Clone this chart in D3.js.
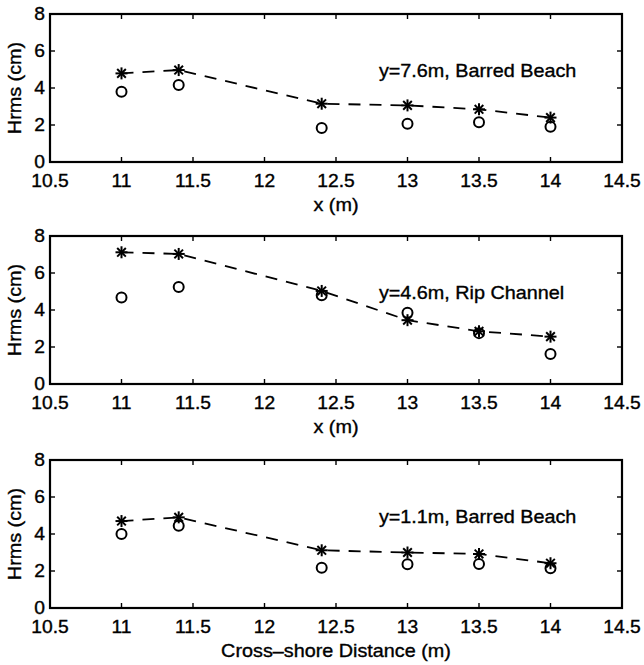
<!DOCTYPE html>
<html>
<head>
<meta charset="utf-8">
<script src="https://cdn.jsdelivr.net/npm/d3@7"></script>
<style>
html,body{margin:0;padding:0;background:#fff;}
svg{display:block;}
text{font-family:"Liberation Sans",Arial,Helvetica,sans-serif;fill:#000;stroke:#000;stroke-width:0.35;}
</style>
</head>
<body>
<script>
// ---- data ----
const xPositions = [11, 11.4, 12.4, 13, 13.5, 14];
const xTicks = [10.5, 11, 11.5, 12, 12.5, 13, 13.5, 14, 14.5];
const xTickLabels = ["10.5", "11", "11.5", "12", "12.5", "13", "13.5", "14", "14.5"];
const yTicks = [0, 2, 4, 6, 8];
const yTickLabels = ["0", "2", "4", "6", "8"];

const modelTop = [4.79, 4.97, 3.15, 3.06, 2.85, 2.40];
const measTop = [3.80, 4.16, 1.84, 2.07, 2.15, 1.90];
const modelMid = [7.12, 7.03, 5.03, 3.45, 2.85, 2.56];
const measMid = [4.68, 5.24, 4.80, 3.85, 2.75, 1.62];
const modelBot = [4.70, 4.90, 3.12, 3.00, 2.92, 2.42];
const measBot = [4.00, 4.45, 2.17, 2.36, 2.38, 2.15];

const panelTitles = ["y=7.6m, Barred Beach", "y=4.6m, Rip Channel", "y=1.1m, Barred Beach"];
const xLabels = ["x (m)", "x (m)", "Cross\u2013shore Distance (m)"];
const yLabel = "Hrms (cm)";

const panels = [
  {model: modelTop, meas: measTop, title: panelTitles[0], xlabel: xLabels[0]},
  {model: modelMid, meas: measMid, title: panelTitles[1], xlabel: xLabels[1]},
  {model: modelBot, meas: measBot, title: panelTitles[2], xlabel: xLabels[2]}
];

// ---- layout ----
const W = 644, H = 665;
const left = 50, right = 622;
const tops = [14, 236, 460];
const ph = 148;
const tickLen = 5;
const sx = 1.1; // horizontal text stretch

const svg = d3.select("body").append("svg").attr("width", W).attr("height", H);

const x = d3.scaleLinear().domain([10.5, 14.5]).range([left, right]);

function addText(g, tx, ty, str, size, anchor, baseline, rot) {
  const t = g.append("g").attr("transform", `translate(${tx},${ty})` + (rot ? ` rotate(${rot})` : "") + ` scale(${sx},1)`);
  t.append("text")
    .attr("x", 0).attr("y", 0)
    .attr("font-size", size)
    .attr("text-anchor", anchor)
    .attr("dominant-baseline", baseline)
    .text(str);
}

panels.forEach((p, i) => {
  const top = tops[i], bottom = top + ph;
  const y = d3.scaleLinear().domain([0, 8]).range([bottom, top]);
  const g = svg.append("g");

  // ticks (inward, all four sides)
  xTicks.forEach(v => {
    g.append("line").attr("x1", x(v)).attr("x2", x(v)).attr("y1", bottom).attr("y2", bottom - tickLen)
      .attr("stroke", "#000").attr("stroke-width", 1.4);
    g.append("line").attr("x1", x(v)).attr("x2", x(v)).attr("y1", top).attr("y2", top + tickLen)
      .attr("stroke", "#000").attr("stroke-width", 1.4);
  });
  yTicks.forEach(v => {
    g.append("line").attr("x1", left).attr("x2", left + tickLen).attr("y1", y(v)).attr("y2", y(v))
      .attr("stroke", "#000").attr("stroke-width", 1.4);
    g.append("line").attr("x1", right).attr("x2", right - tickLen).attr("y1", y(v)).attr("y2", y(v))
      .attr("stroke", "#000").attr("stroke-width", 1.4);
  });

  // box
  g.append("rect").attr("x", left).attr("y", top).attr("width", right - left).attr("height", ph)
    .attr("fill", "none").attr("stroke", "#000").attr("stroke-width", 2.2);

  // tick labels
  xTicks.forEach((v, k) => addText(g, x(v), bottom + 19, xTickLabels[k], 17.5, "middle", "central"));
  yTicks.forEach((v, k) => addText(g, left - 5, y(v), yTickLabels[k], 17.5, "end", "central"));

  // axis labels
  addText(g, (left + right) / 2, bottom + 43, p.xlabel, 18, "middle", "central");
  addText(g, 15, (top + bottom) / 2, yLabel, 18, "middle", "central", -90);

  // annotation
  addText(g, x(12.8), y(4.92), p.title, 18, "start", "central");

  // dashed model line
  const line = d3.line().x((d, k) => x(xPositions[k])).y(d => y(d));
  g.append("path").datum(p.model).attr("d", line)
    .attr("fill", "none").attr("stroke", "#000").attr("stroke-width", 1.8)
    .attr("stroke-dasharray", "12,9");

  // circles (measured)
  g.selectAll("circle.m").data(p.meas).enter().append("circle")
    .attr("cx", (d, k) => x(xPositions[k])).attr("cy", d => y(d)).attr("r", 5)
    .attr("fill", "none").attr("stroke", "#000").attr("stroke-width", 2);

  // star markers (model)
  const s = 6;
  p.model.forEach((d, k) => {
    const cx = x(xPositions[k]), cy = y(d);
    const st = g.append("g").attr("transform", `translate(${cx},${cy})`);
    const segs = [[-s,0,s,0],[0,-s,0,s],[-s*0.72,-s*0.72,s*0.72,s*0.72],[-s*0.72,s*0.72,s*0.72,-s*0.72]];
    segs.forEach(a => st.append("line").attr("x1", a[0]).attr("y1", a[1]).attr("x2", a[2]).attr("y2", a[3])
      .attr("stroke", "#000").attr("stroke-width", 2));
  });
});
</script>
</body>
</html>
